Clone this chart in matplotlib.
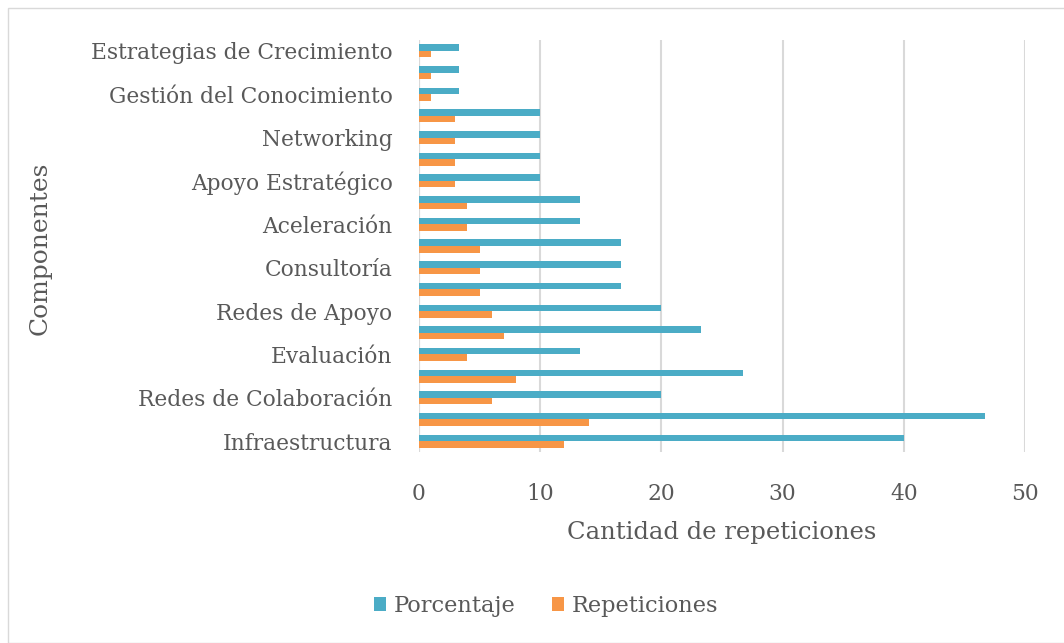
import matplotlib
matplotlib.use("Agg")
import matplotlib.pyplot as plt
from matplotlib.patches import Rectangle
import numpy as np

categories = ["Infraestructura", "", "Redes de Colaboración", "", "Evaluación", "",
              "Redes de Apoyo", "", "Consultoría", "", "Aceleración", "",
              "Apoyo Estratégico", "", "Networking", "", "Gestión del Conocimiento", "",
              "Estrategias de Crecimiento"]
porcentaje = [40, 46.7, 20, 26.7, 13.3, 23.3, 20, 16.7, 16.7, 16.7, 13.3, 13.3,
              10, 10, 10, 10, 3.3, 3.3, 3.3]
repeticiones = [12, 14, 6, 8, 4, 7, 6, 5, 5, 5, 4, 4, 3, 3, 3, 3, 1, 1, 1]
xticks = [0, 10, 20, 30, 40, 50]

TEAL = "#4BACC6"
ORANGE = "#F79646"
TXT = "#595959"
FONT = "DejaVu Serif"

plt.rcParams['font.family'] = FONT

fig = plt.figure(figsize=(10.64, 6.43), dpi=100)
ax = fig.add_axes([419/1064, 1-452/643, (1025-419)/1064, (452-40)/643])

y = np.arange(len(categories))
h = 0.3
ax.barh(y + h/2, porcentaje, height=h, color=TEAL, label="Porcentaje", zorder=3)
ax.barh(y - h/2, repeticiones, height=h, color=ORANGE, label="Repeticiones", zorder=3)

ax.set_xlim(0, 50)
ax.set_ylim(-0.5, len(categories) - 0.5)
ax.set_xticks(xticks)
ax.set_xticklabels([str(t) for t in xticks])
ax.set_yticks(y)
ax.set_yticklabels(categories)
ax.tick_params(axis='both', length=0, labelsize=15.7, colors=TXT)
ax.tick_params(axis='x', pad=22)
ax.tick_params(axis='y', pad=19)
ax.grid(axis='x', color="#D9D9D9", linewidth=1.5, zorder=0)
for s in ax.spines.values():
    s.set_visible(False)
ax.axvline(0, color="#D9D9D9", linewidth=1.5, zorder=1)

ax.set_xlabel("Cantidad de repeticiones", fontsize=17.5, color=TXT, labelpad=12)
fig.text(40/1064, 1-248/643, "Componentes", rotation=90, fontsize=18, color=TXT,
         ha="center", va="center")

leg = fig.legend(loc="center", bbox_to_anchor=(546/1064, 1-606/643), ncol=2,
                 frameon=False, fontsize=16.2, handlelength=0.55, handleheight=0.55,
                 columnspacing=1.6, handletextpad=0.35, labelcolor=TXT)

fig.patches.append(Rectangle((8/1064, 0), 1.0, 1-8/643, transform=fig.transFigure,
                             fill=False, edgecolor="#D9D9D9", linewidth=1))

fig.savefig("out.png", dpi=100, facecolor="white")
